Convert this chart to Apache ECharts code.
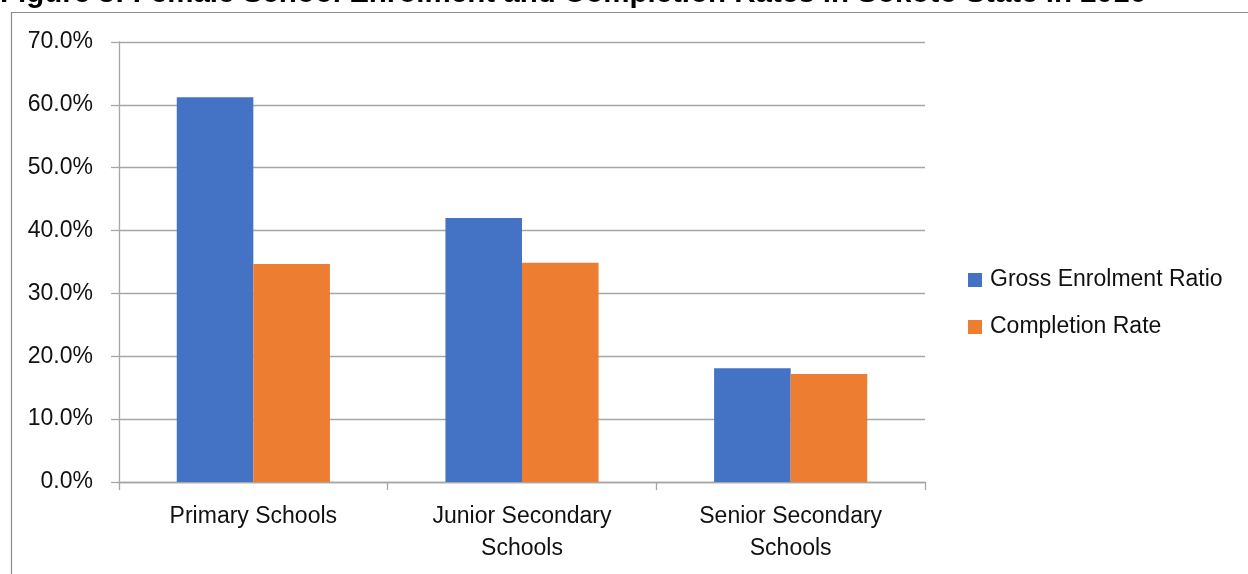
<!DOCTYPE html>
<html>
<head>
<meta charset="utf-8">
<script src="https://cdn.jsdelivr.net/npm/echarts@6/dist/echarts.min.js"></script>
<style>
  html, body { margin: 0; padding: 0; background: #fff; }
  #chart { width: 1248px; height: 574px; }
</style>
</head>
<body>
<div id="chart"></div>
<script>
// School levels on the category axis
const categories = ['Primary Schools', 'Junior Secondary\nSchools', 'Senior Secondary\nSchools'];
// Percent values per school level
const grossEnrolment = [61.2, 42.0, 18.1];
const completionRate = [34.7, 34.9, 17.2];
// Value axis settings (percent)
const yMin = 0, yMax = 70, yStep = 10;

const titleText = 'Figure 3: Female School Enrolment and Completion Rates in Sokoto State in 2016';
const FONT = '"Liberation Sans", Arial, sans-serif';
const GRID_GRAY = '#a6a6a6';

const chart = echarts.init(document.getElementById('chart'), null, { renderer: 'canvas' });
chart.setOption({
  animation: false,
  backgroundColor: '#fff',
  graphic: [
    {
      type: 'rect', z: -1, silent: true,
      shape: { x: 11.5, y: 12.5, width: 1300, height: 700 },
      style: { fill: 'none', stroke: '#8c8c8c', lineWidth: 1.2 }
    },
    {
      type: 'text', x: 0, y: -6, silent: true,
      style: { text: titleText, font: 'bold 29.5px ' + FONT, fill: '#000', verticalAlign: 'middle', align: 'left' }
    }
  ],
  grid: { left: 119, right: 323, top: 42, bottom: 92, containLabel: false },
  legend: {
    orient: 'vertical',
    left: 963, top: 263,
    icon: 'rect',
    itemWidth: 14, itemHeight: 14,
    itemGap: 23,
    textStyle: { fontFamily: FONT, fontSize: 23, color: '#111', lineHeight: 24, padding: [0, 0, 0, 3] },
    data: ['Gross Enrolment Ratio', 'Completion Rate']
  },
  xAxis: {
    type: 'category',
    data: categories,
    axisLine: { lineStyle: { color: GRID_GRAY, width: 1.3 } },
    axisTick: { show: true, length: 8, lineStyle: { color: GRID_GRAY, width: 1.3 } },
    axisLabel: { fontFamily: FONT, fontSize: 23, color: '#111', lineHeight: 32, margin: 19 }
  },
  yAxis: {
    type: 'value',
    min: yMin, max: yMax, interval: yStep,
    axisLine: { show: true, lineStyle: { color: GRID_GRAY, width: 1.3 } },
    axisTick: { show: true, length: 8, lineStyle: { color: GRID_GRAY, width: 1.3 } },
    splitLine: { lineStyle: { color: GRID_GRAY, width: 1.3 } },
    axisLabel: {
      fontFamily: FONT, fontSize: 23, color: '#111', margin: 26,
      formatter: v => v.toFixed(1) + '%'
    }
  },
  series: [
    {
      name: 'Gross Enrolment Ratio', type: 'bar', data: grossEnrolment,
      itemStyle: { color: '#4472C4' }, barGap: '0%', barCategoryGap: '43%'
    },
    {
      name: 'Completion Rate', type: 'bar', data: completionRate,
      itemStyle: { color: '#ED7D31' }, barGap: '0%', barCategoryGap: '43%'
    }
  ]
});
</script>
</body>
</html>
